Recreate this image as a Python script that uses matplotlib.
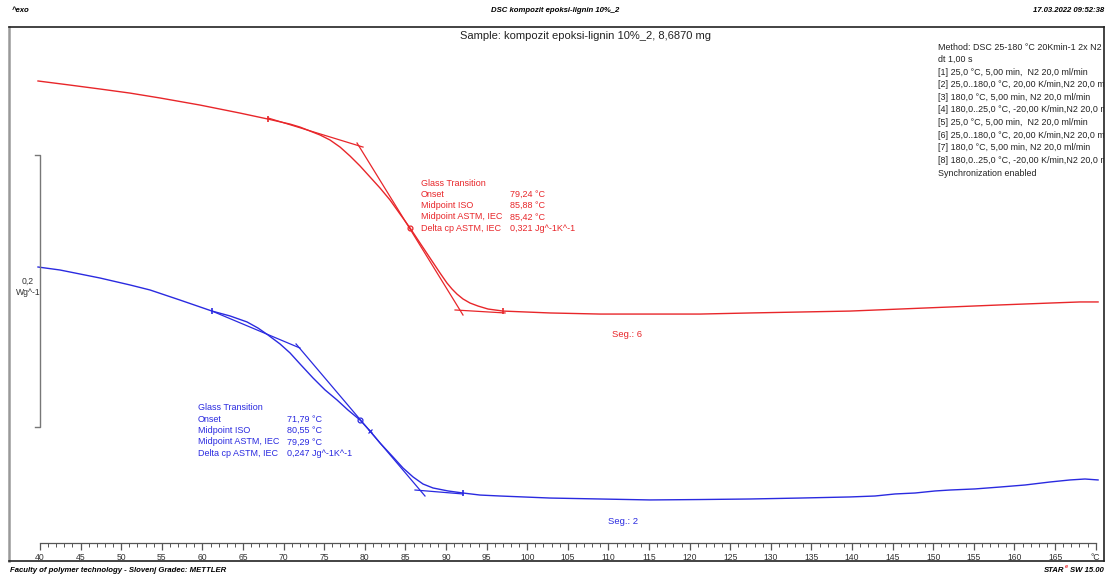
import matplotlib
matplotlib.use('Agg')
import matplotlib.pyplot as plt

# Segment 6 (red) - temperature in C, heat flow in W/g
seg6_temp = [39.75, 43.69, 47.39, 51.08, 54.78, 59.70, 64.63, 68.08, 70.79, 72.02,
             73.25, 74.48, 75.71, 76.95, 78.18, 79.41, 80.64, 81.87, 83.10, 84.33,
             85.57, 86.80, 88.03, 89.26, 90.12, 90.74, 91.35, 92.09, 92.96, 93.94,
             95.17, 97.02, 102.81, 108.97, 115.12, 121.28, 127.44, 133.60, 139.75,
             145.91, 152.07, 158.23, 164.38, 168.08, 170.30]
seg6_hf = [0.2346, 0.2316, 0.2287, 0.2257, 0.2221, 0.2169, 0.2110, 0.2066, 0.2029, 0.2007,
           0.1978, 0.1949, 0.1912, 0.1860, 0.1794, 0.1721, 0.1640, 0.1559, 0.1471, 0.1368,
           0.1265, 0.1154, 0.1044, 0.0934, 0.0860, 0.0816, 0.0779, 0.0743, 0.0713, 0.0691,
           0.0669, 0.0654, 0.0640, 0.0632, 0.0632, 0.0632, 0.0640, 0.0647, 0.0654,
           0.0669, 0.0684, 0.0699, 0.0713, 0.0721, 0.0721]

# Segment 2 (blue)
seg2_temp = [39.75, 42.46, 47.39, 51.08, 53.55, 57.24, 61.18, 63.40, 65.49, 66.85,
             68.08, 69.56, 70.79, 72.02, 73.62, 75.10, 76.58, 77.93, 79.41, 80.64,
             81.87, 83.47, 84.70, 85.94, 87.17, 88.40, 90.25, 92.09, 94.19, 96.65,
             102.81, 108.97, 115.12, 121.28, 127.44, 133.60, 139.75, 142.83, 145.30,
             147.76, 150.22, 152.07, 155.15, 158.23, 161.31, 164.38, 166.85, 168.69, 170.30]
seg2_hf = [0.0978, 0.0956, 0.0897, 0.0846, 0.0809, 0.0735, 0.0654, 0.0618, 0.0574, 0.0529,
           0.0478, 0.0412, 0.0346, 0.0265, 0.0162, 0.0074, 0.0, -0.0074, -0.0147, -0.0228,
           -0.0316, -0.0419, -0.0500, -0.0566, -0.0618, -0.0647, -0.0669, -0.0684, -0.0699,
           -0.0706, -0.0721, -0.0728, -0.0735, -0.0732, -0.0728, -0.0721, -0.0713, -0.0706,
           -0.0691, -0.0684, -0.0669, -0.0662, -0.0654, -0.0640, -0.0625, -0.0603, -0.0588,
           -0.0581, -0.0588]

# tangent construction lines (start/end points)
seg6_tangents = [([68.08, 79.78], [0.2074, 0.1860]),
                 ([79.04, 92.09], [0.1890, 0.0625]),
                 ([91.11, 97.27], [0.0662, 0.0640])]
seg2_tangents = [([61.18, 72.02], [0.0654, 0.0382]),
                 ([71.53, 87.41], [0.0412, -0.0706]),
                 ([86.18, 92.09], [-0.0662, -0.0691])]

# limit markers and midpoints
seg6_limits = ([68.08, 97.02], [0.2066, 0.0654])
seg6_mid = (85.57, 0.1265)
seg2_limits = ([61.18, 92.09], [0.0654, -0.0684])
seg2_mid = (79.41, -0.0147)
seg2_mid2 = (80.64, -0.0228)

gt_labels = ["Onset", "Midpoint ISO", "Midpoint ASTM, IEC", "Delta cp ASTM, IEC"]
seg6_values = ["79,24 \u00b0C", "85,88 \u00b0C", "85,42 \u00b0C", "0,321 Jg^-1K^-1"]
seg2_values = ["71,79 \u00b0C", "80,55 \u00b0C", "79,29 \u00b0C", "0,247 Jg^-1K^-1"]

method_lines = ["Method: DSC 25-180 \u00b0C 20Kmin-1 2x N2",
                "dt 1,00 s",
                "[1] 25,0 \u00b0C, 5,00 min,  N2 20,0 ml/min",
                "[2] 25,0..180,0 \u00b0C, 20,00 K/min,N2 20,0 ml/min",
                "[3] 180,0 \u00b0C, 5,00 min, N2 20,0 ml/min",
                "[4] 180,0..25,0 \u00b0C, -20,00 K/min,N2 20,0 ml/min",
                "[5] 25,0 \u00b0C, 5,00 min,  N2 20,0 ml/min",
                "[6] 25,0..180,0 \u00b0C, 20,00 K/min,N2 20,0 ml/min",
                "[7] 180,0 \u00b0C, 5,00 min, N2 20,0 ml/min",
                "[8] 180,0..25,0 \u00b0C, -20,00 K/min,N2 20,0 ml/min",
                "Synchronization enabled"]

tick_values = list(range(40, 171, 5))
tick_labels = [str(t) for t in tick_values[:-1]] + ["\u00b0C"]

RED = '#e8262a'
BLUE = '#2a2ae0'
FONT = ['Liberation Sans', 'DejaVu Sans']
NARROW = ['Liberation Sans Narrow', 'Liberation Sans', 'DejaVu Sans']

W, H = 1108, 579
fig = plt.figure(figsize=(W / 100, H / 100), dpi=100)
plt.rcParams['font.family'] = FONT

left, right, top, bottom = 9, 1104, 27, 561
ax = fig.add_axes([left / W, (H - bottom) / H, (right - left) / W, (bottom - top) / H])
ax.set_xlim(36.18, 171.03)
ax.set_ylim(-0.1184, 0.2743)
ax.set_xticks([])
ax.set_yticks([])
for s in ax.spines.values():
    s.set_color('#222222')
    s.set_linewidth(1.2)
ax.spines['left'].set_color('#999999')
ax.spines['left'].set_linewidth(1.8)

# curves
ax.plot(seg6_temp, seg6_hf, color=RED, lw=1.0)
ax.plot(seg2_temp, seg2_hf, color=BLUE, lw=1.0)
for xs, ys in seg6_tangents:
    ax.plot(xs, ys, color=RED, lw=0.9)
for xs, ys in seg2_tangents:
    ax.plot(xs, ys, color=BLUE, lw=0.9)
ax.plot(*seg6_limits, ls='none', marker='|', ms=5, mew=1.2, color=RED)
ax.plot(*seg2_limits, ls='none', marker='|', ms=5, mew=1.2, color=BLUE)
ax.plot(*seg6_mid, marker='o', ms=3.5, mfc='none', mew=0.9, color=RED)
ax.plot(*seg2_mid, marker='o', ms=3.5, mfc='none', mew=0.9, color=BLUE)
ax.plot(*seg2_mid2, marker='x', ms=3, mew=0.9, color=BLUE)

# scale bracket 0,2 W/g
ax.plot([39.38, 39.94, 39.94, 39.38], [0.1801, 0.1801, -0.0199, -0.0199],
        color='#777777', lw=1.0)
ax.text(38.52, 0.0831, "0,2\nWg^-1", fontsize=6.2, ha='center', va='center',
        color='#333333', linespacing=1.3)

# glass transition annotations
def annotate(px_lab, px_val, py0, color, values):
    fx = lambda p: p / W
    fy = lambda p: 1 - p / H
    fig.text(fx(px_lab), fy(py0), "Glass Transition", color=color, fontsize=6.5, va='center')
    for i, (lab, val) in enumerate(zip(gt_labels, values)):
        y = fy(py0 + 11.3 * (i + 1))
        fig.text(fx(px_lab), y, lab, color=color, fontsize=6.5, va='center')
        fig.text(fx(px_val), y, val, color=color, fontsize=6.5, va='center')

annotate(421, 510, 183, RED, seg6_values)
annotate(198, 287, 408, BLUE, seg2_values)

ax.text(112.3, 0.0481, "Seg.: 6", color=RED, fontsize=6.8, ha='center', va='center')
ax.text(111.8, -0.0897, "Seg.: 2", color=BLUE, fontsize=6.8, ha='center', va='center')

# sample title and method box
fig.text(585 / W, 1 - 36 / H, "Sample: kompozit epoksi-lignin 10%_2, 8,6870 mg",
         fontsize=8.0, ha='center', va='center', color='#222222', family=NARROW)
for i, line in enumerate(method_lines):
    ax.text(938 / W, 1 - (47 + 12.6 * i) / H, line, fontsize=6.4, va='center',
            color='#222222', transform=fig.transFigure, clip_on=True)

# temperature axis
ax2 = fig.add_axes([left / W, (H - 543) / H, (right - left) / W, 0.0001])
ax2.set_xlim(36.18, 171.03)
ax2.set_yticks([])
ax2.patch.set_alpha(0)
for k in ['top', 'left', 'right']:
    ax2.spines[k].set_visible(False)
ax2.spines['bottom'].set_bounds(40, 170)
ax2.spines['bottom'].set_color('#555555')
ax2.spines['bottom'].set_linewidth(0.9)
ax2.set_xticks(tick_values)
ax2.set_xticklabels(tick_labels, fontsize=6.2, color='#333333', family=NARROW)
ax2.set_xticks(list(range(40, 171)), minor=True)
ax2.tick_params(axis='x', which='major', length=5, width=0.9, color='#555555', pad=2)
ax2.tick_params(axis='x', which='minor', length=3, width=0.7, color='#555555')

# header and footer
hdr = dict(fontsize=5.6, fontstyle='italic', fontweight='bold', va='center', family=NARROW)
fig.text(12 / W, 1 - 10 / H, "^exo", ha='left', **hdr)
fig.text(555 / W, 1 - 10 / H, "DSC kompozit epoksi-lignin 10%_2", ha='center', **hdr)
fig.text(1104 / W, 1 - 10 / H, "17.03.2022 09:52:38", ha='right', **hdr)
fig.text(10 / W, 1 - 571 / H, "Faculty of polymer technology - Slovenj Gradec: METTLER",
         ha='left', **hdr)
fig.text(1064 / W, 1 - 571 / H, "STAR", ha='right', **hdr)
fig.text(1065 / W, 1 - 567 / H, "e", ha='left', color=RED, fontsize=4.0,
         fontstyle='italic', fontweight='bold', va='center')
fig.text(1104 / W, 1 - 571 / H, "SW 15.00", ha='right', **hdr)

fig.savefig("out.png", dpi=100)
